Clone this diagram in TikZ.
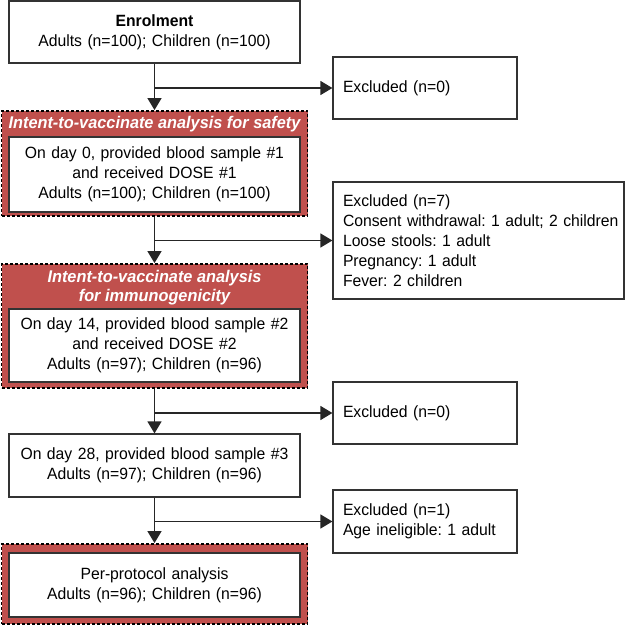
\documentclass[tikz,border=0pt]{standalone}
\usepackage{fontspec}
\setmainfont{Liberation Sans}[FakeStretch=0.965]
\usepackage{tikz}
\usetikzlibrary{arrows.meta}
\usepackage{xcolor}
\definecolor{itvred}{HTML}{C0504D}
\definecolor{boxline}{HTML}{333333}
\frenchspacing

\begin{document}
\begin{tikzpicture}[x=1pt, y=-1pt,
        font=\fontsize{16.3}{20}\selectfont,
        stage/.style={draw=boxline, line width=1.2pt, fill=white, align=center,
            text width=283pt, inner xsep=4pt, inner ysep=0pt, minimum width=291pt},
        excl/.style={draw=boxline, line width=1.2pt, fill=white, align=left,
            text width=#1-20pt, inner xsep=10pt, inner ysep=0pt, minimum width=#1},
        itvbox/.style={fill=itvred, draw=black, line width=1.8pt, dash pattern=on 3pt off 2pt,
            minimum width=306pt, inner sep=0pt},
        itvhead/.style={text=white, font=\fontsize{16.9}{19}\selectfont\bfseries\itshape,
            align=center, inner sep=0pt},
        flow/.style={draw=black!85, line width=1.4pt, -{Triangle[length=12pt, width=14pt]}}]

    \useasboundingbox (0,0) rectangle (625,626);

    \node[stage, minimum height=62pt] (enrol) at (154.5,32) {\textbf{Enrolment}\\Adults (n=100); Children (n=100)};
    \node[excl=184pt, minimum height=62pt] (excl0) at (425,88) {Excluded (n=0)};

    \node[itvbox, minimum height=105pt] (safety) at (154.5,163.5) {};
    \node[itvhead] (safetyhd) at (154.5,124) {Intent-to-vaccinate analysis for safety};
    \node[stage, minimum height=75pt] (dayzero) at (154.5,174.5) {On day 0, provided blood sample \#1\\and received DOSE \#1\\Adults (n=100); Children (n=100)};
    \node[excl=291pt, minimum height=117pt] (excl7) at (478.5,240.5) {Excluded (n=7)\\\mbox{Consent withdrawal: 1 adult; 2 children}\\Loose stools: 1 adult\\Pregnancy: 1 adult\\Fever: 2 children};

    \node[itvbox, minimum height=124pt] (immuno) at (154.5,326) {};
    \node[itvhead] (immunohd) at (154.5,287.5) {Intent-to-vaccinate analysis\\for immunogenicity};
    \node[stage, minimum height=73pt] (dayfourteen) at (154.5,345.5) {On day 14, provided blood sample \#2\\and received DOSE \#2\\Adults (n=97); Children (n=96)};
    \node[excl=184pt, minimum height=62pt] (exclzero) at (425,413) {Excluded (n=0)};

    \node[stage, minimum height=63pt] (daytwentyeight) at (154.5,465.5) {On day 28, provided blood sample \#3\\Adults (n=97); Children (n=96)};
    \node[excl=184pt, minimum height=63pt] (exclone) at (425,521.5) {Excluded (n=1)\\Age ineligible: 1 adult};

    \node[itvbox, minimum height=80pt] (perprot) at (154.5,584) {};
    \node[stage, minimum height=64pt] (perprotin) at (154.5,585) {Per-protocol analysis\\Adults (n=96); Children (n=96)};

    \draw[flow] (enrol.south) -- (safety.north);
    \draw[flow] (enrol.south |- excl0.west) -- (excl0.west);

    \draw[flow] (safety.south) -- (immuno.north);
    \draw[flow] (safety.south |- excl7.west) -- (excl7.west);

    \draw[flow] (immuno.south) -- (daytwentyeight.north);
    \draw[flow] (immuno.south |- exclzero.west) -- (exclzero.west);

    \draw[flow] (daytwentyeight.south) -- (perprot.north);
    \draw[flow] (daytwentyeight.south |- exclone.west) -- (exclone.west);

\end{tikzpicture}
\end{document}
